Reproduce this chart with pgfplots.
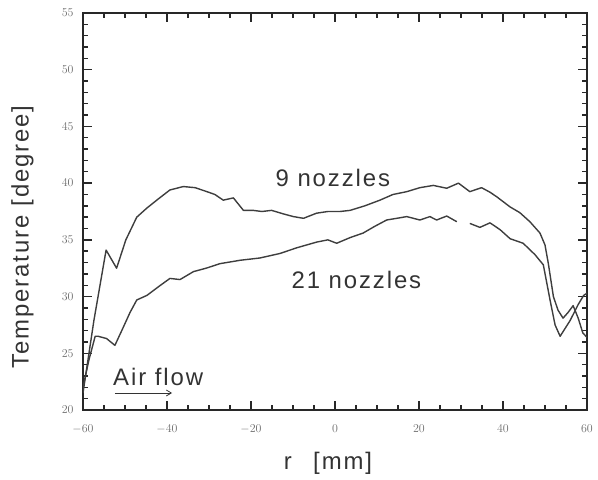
\documentclass[border=0pt]{standalone}
\usepackage{fontspec}
\setmainfont{Liberation Sans}
\newfontfamily\labfont[LetterSpace=8]{Liberation Sans}
\usepackage{pgfplots}
\pgfplotsset{compat=1.18}
\usetikzlibrary{arrows.meta}
\definecolor{curve}{RGB}{62,62,62}
\definecolor{ticklab}{RGB}{110,110,110}
\definecolor{frame}{RGB}{40,40,40}

\begin{document}
\begin{tikzpicture}
\useasboundingbox (-83bp,-70bp) rectangle (515bp,410bp);
\begin{axis}[
    at={(0,0)}, anchor=south west,
    scale only axis,
    width=504bp, height=397bp,
    xmin=-60, xmax=60, ymin=20, ymax=55,
    xtick={-60,-40,...,60}, ytick={20,25,...,55},
    minor x tick num=3, minor y tick num=4,
    tick align=inside,
    major tick length=9bp, minor tick length=5bp,
    axis line style={line width=2.2bp, draw=frame},
    tick style={line width=1.4bp, draw=frame},
    tick label style={font=\fontsize{13}{13}\selectfont, text=ticklab},
    yticklabel style={xshift=-6bp},
    xticklabel style={yshift=-11bp},
    xlabel={r\hspace{0.9em}[mm]},
    ylabel={Temperature [degree]},
    label style={font=\labfont\fontsize{24}{24}\selectfont, text=black!80},
    xlabel style={at={(axis description cs:0.486,-0.135)}, anchor=center},
    ylabel style={at={(axis description cs:-0.12,0.436)}, anchor=center},
    unbounded coords=jump,
]
% 9 nozzles
\addplot[curve, line width=1.4bp, line join=round, no markers] coordinates {
(-60,21.5) (-57.4,27.9) (-54.5,34.1) (-52.0,32.5) (-49.8,35.0) (-47.2,37.0)
(-44.8,37.8) (-42.1,38.6) (-39.3,39.4) (-36.1,39.7) (-33.3,39.6) (-30.5,39.25)
(-28.6,39.0) (-26.6,38.5) (-24.2,38.7) (-21.8,37.6) (-19.5,37.6) (-17.4,37.5)
(-15.1,37.6) (-12.4,37.3) (-9.9,37.05) (-7.5,36.9) (-4.4,37.35) (-1.7,37.5)
(1.2,37.5) (3.6,37.6) (7.1,38.0) (10.7,38.5) (13.8,39.0) (17.1,39.25)
(20.2,39.6) (23.4,39.8) (26.6,39.55) (29.4,40.0) (32.1,39.25) (34.9,39.6)
(36.9,39.2) (38.5,38.8) (41.7,37.9) (44.0,37.4) (46.4,36.6) (48.8,35.6)
(50.0,34.55) (50.8,32.9) (52.0,30.0) (53.1,28.8) (54.3,28.1) (55.5,28.6)
(56.7,29.2) (57.9,28.1) (59.0,26.8) (60,26.4)
};
% 21 nozzles
\addplot[curve, line width=1.4bp, line join=round, no markers] coordinates {
(-60,22.0) (-58.6,24.4) (-57.1,26.5) (-56.4,26.5) (-54.4,26.3) (-52.4,25.7)
(-50.4,27.3) (-48.8,28.6) (-47.2,29.7) (-44.8,30.1) (-42.1,30.85) (-39.3,31.6)
(-36.9,31.5) (-33.7,32.2) (-30.7,32.5) (-27.4,32.9) (-22.6,33.2) (-17.9,33.4)
(-13.1,33.8) (-9.1,34.3) (-4.4,34.8) (-1.7,35.0) (0.4,34.7) (3.6,35.2)
(6.7,35.6) (9.5,36.2) (12.3,36.75) (17.1,37.05) (20.2,36.75) (22.6,37.05)
(24.2,36.75) (26.6,37.1) (29.0,36.6) (30.5,nan)
(32.1,36.45) (34.5,36.1) (36.9,36.5) (39.3,35.9) (41.7,35.1) (44.8,34.7)
(47.6,33.7) (49.6,32.8) (51.2,29.7) (52.4,27.5) (53.6,26.5) (56.0,27.9)
(57.9,29.3) (59.2,30.1) (60,30.3)
};
\node[font=\labfont\fontsize{24}{24}\selectfont, text=black!80] at (axis cs:-0.5,40.5) {9 nozzles};
\node[font=\labfont\fontsize{24}{24}\selectfont, text=black!80] at (axis cs:5.1,31.5) {21 nozzles};
\node[font=\labfont\fontsize{24}{24}\selectfont, text=black!80] at (axis cs:-42.1,22.9) {Air flow};
\draw[-{Straight Barb[length=5bp,width=6bp]}, line width=0.8bp, black!80]
  (axis cs:-52.4,21.5) -- (axis cs:-38.8,21.5);
\end{axis}
\end{tikzpicture}
\end{document}
